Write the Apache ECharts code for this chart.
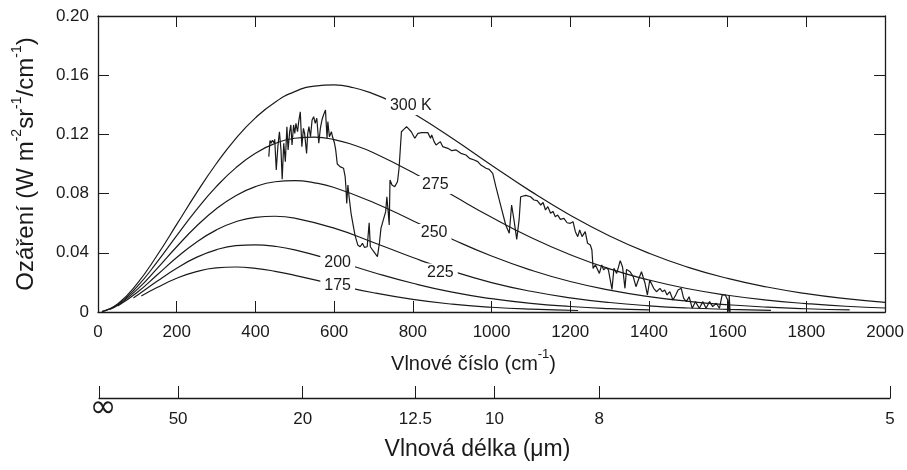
<!DOCTYPE html>
<html><head><meta charset="utf-8">
<script src="https://cdn.jsdelivr.net/npm/echarts@6/dist/echarts.min.js"></script>
<style>html,body{margin:0;padding:0;background:#fff}#c{width:907px;height:470px}</style>
</head><body><div id="c"></div>
<script>
// Planck curves: [wavenumber cm^-1, radiance]
const curve300 = [[10,0.0002],[50,0.0055],[100,0.0194],[150,0.0382],[200,0.0592],[250,0.0803],[300,0.1000],[350,0.1172],[400,0.1312],[450,0.1418],[500,0.1489],[550,0.1526],[600,0.1534],[650,0.1515],[700,0.1474],[750,0.1416],[800,0.1344],[900,0.1174],[1000,0.0992],[1100,0.0815],[1200,0.0654],[1300,0.0514],[1400,0.0397],[1500,0.0302],[1600,0.0227],[1700,0.0169],[1800,0.0124],[1900,0.0090],[2000,0.0065]];
const curve275 = [[10,0.0002],[50,0.0050],[100,0.0173],[150,0.0337],[200,0.0516],[250,0.0690],[300,0.0845],[350,0.0974],[400,0.1072],[450,0.1139],[500,0.1174],[550,0.1181],[600,0.1165],[650,0.1128],[700,0.1076],[800,0.0942],[900,0.0790],[1000,0.0640],[1100,0.0503],[1200,0.0387],[1300,0.0291],[1400,0.0216],[1500,0.0157],[1600,0.0113],[1700,0.0080],[1800,0.0057],[1900,0.0039],[2000,0.0027]];
const curve250 = [[30,0.0017],[50,0.0045],[100,0.0153],[150,0.0293],[200,0.0441],[250,0.0579],[300,0.0696],[350,0.0786],[400,0.0847],[450,0.0880],[500,0.0888],[550,0.0873],[600,0.0841],[700,0.0740],[800,0.0617],[900,0.0492],[1000,0.0378],[1100,0.0283],[1200,0.0206],[1300,0.0148],[1400,0.0104],[1500,0.0072],[1600,0.0049],[1700,0.0033],[1800,0.0022],[1910,0.0014]];
const curve225 = [[50,0.0040],[100,0.0133],[150,0.0250],[200,0.0368],[250,0.0472],[300,0.0553],[350,0.0610],[400,0.0640],[450,0.0647],[500,0.0634],[600,0.0567],[700,0.0470],[800,0.0368],[900,0.0276],[1000,0.0199],[1100,0.0140],[1200,0.0096],[1300,0.0064],[1400,0.0042],[1500,0.0027],[1600,0.0018],[1710,0.0011]];
const curve200 = [[90,0.0095],[100,0.0113],[150,0.0207],[200,0.0296],[250,0.0369],[300,0.0420],[350,0.0448],[400,0.0454],[450,0.0444],[500,0.0420],[600,0.0348],[700,0.0267],[800,0.0194],[900,0.0134],[1000,0.0090],[1100,0.0058],[1200,0.0037],[1300,0.0023],[1400,0.0014]];
const curve175 = [[110,0.0108],[150,0.0165],[200,0.0228],[250,0.0273],[300,0.0298],[350,0.0304],[400,0.0295],[450,0.0275],[500,0.0248],[600,0.0187],[700,0.0130],[800,0.0085],[900,0.0053],[1000,0.0032],[1100,0.0019],[1220,0.0010]];

// Measured spectrum
const spectrum = [[434,0.105],[437,0.1158],[440,0.114],[443,0.116],[447,0.1144],[449,0.1167],[453,0.0959],[457,0.1117],[461,0.1218],[465,0.1095],[468,0.0897],[472,0.114],[476,0.1016],[480,0.1252],[483,0.1095],[487,0.1218],[490,0.1264],[493,0.1128],[497,0.1264],[500,0.1207],[503,0.1275],[507,0.1218],[510,0.1286],[514,0.1353],[518,0.1117],[522,0.1241],[525,0.1207],[530,0.1072],[533,0.1207],[536,0.1252],[540,0.1184],[544,0.1297],[548,0.132],[552,0.1275],[556,0.1309],[561,0.114],[565,0.1241],[569,0.1297],[573,0.1331],[578,0.1365],[582,0.1174],[584,0.1286],[588,0.1184],[593,0.1218],[596,0.1184],[601,0.114],[604,0.1095],[608,0.100],[615,0.0982],[624,0.0971],[628,0.0914],[630,0.0843],[632,0.0734],[635,0.0858],[638,0.0779],[643,0.0667],[649,0.0577],[653,0.052],[660,0.0453],[666,0.0441],[672,0.0464],[677,0.0437],[684,0.0441],[689,0.0603],[692,0.0441],[699,0.0414],[710,0.0374],[715,0.0464],[719,0.0565],[725,0.0622],[731,0.0678],[734,0.0779],[737,0.0689],[740,0.0588],[742,0.0892],[747,0.0858],[754,0.0847],[761,0.088],[765,0.0971],[771,0.1218],[777,0.1234],[784,0.1252],[788,0.1257],[796,0.1218],[805,0.1174],[813,0.1207],[822,0.1212],[838,0.1212],[845,0.1174],[848,0.1196],[854,0.1151],[859,0.1128],[864,0.1117],[870,0.1151],[876,0.1117],[889,0.1106],[899,0.109],[910,0.1095],[922,0.1072],[935,0.1061],[944,0.1038],[956,0.1027],[965,0.1016],[973,0.0993],[986,0.0971],[994,0.0964],[1003,0.0937],[1011,0.0847],[1024,0.0712],[1036,0.0588],[1045,0.0532],[1051,0.0723],[1057,0.0622],[1064,0.0491],[1070,0.0622],[1074,0.0779],[1087,0.0788],[1099,0.0779],[1108,0.0757],[1116,0.0752],[1125,0.0723],[1131,0.0740],[1137,0.0689],[1143,0.0712],[1150,0.0667],[1156,0.0680],[1162,0.0644],[1168,0.0655],[1175,0.0626],[1184,0.0633],[1192,0.0603],[1200,0.0599],[1207,0.061],[1213,0.0543],[1219,0.0509],[1224,0.0554],[1230,0.0509],[1238,0.0543],[1244,0.0464],[1251,0.0453],[1255,0.0419],[1258,0.0295],[1264,0.0318],[1269,0.0329],[1274,0.0261],[1280,0.0318],[1285,0.0284],[1291,0.0302],[1297,0.0284],[1306,0.0153],[1311,0.0295],[1318,0.0261],[1327,0.0347],[1333,0.0302],[1339,0.016],[1343,0.0288],[1352,0.0272],[1360,0.0239],[1367,0.0171],[1373,0.0216],[1381,0.0272],[1390,0.0194],[1396,0.0115],[1402,0.0216],[1412,0.016],[1419,0.0137],[1428,0.016],[1434,0.0137],[1440,0.0149],[1446,0.0115],[1453,0.0137],[1461,0.0081],[1468,0.0115],[1474,0.0149],[1482,0.016],[1488,0.0093],[1495,0.007],[1502,0.0103],[1510,0.0025],[1518,0.007],[1528,0.0025],[1537,0.007],[1545,0.0025],[1554,0.007],[1562,0.0036],[1571,0.0059],[1579,0.0025],[1586,0.0115],[1594,0.0115],[1600,0.0081],[1603,0.0002],[1604,0.0115],[1606,0.0]];

// Curve labels
const curveLabels = ['300 K','275','250','225','200','175'];
const curveLabelX = [795, 857, 854, 870, 609, 609];
const curveLabelY = [0.1392, 0.0858, 0.0534, 0.0267, 0.0334, 0.0179];

// Tick labels
const yTickLabels = ['0','0.04','0.08','0.12','0.16','0.20'];
const wlTickPos = [0, 200, 515, 800, 1000, 1265, 2000];
const wlTickLabels = ['∞','50','20','12.5','10','8','5'];

const FONT = '"Liberation Sans", Arial, sans-serif';
const INK = '#1a1a1a';
const chart = echarts.init(document.getElementById('c'));

function curve(data){
  return {type:'line', data:data, smooth:true, symbol:'none', silent:true,
    lineStyle:{color:INK, width:1.2}, xAxisIndex:0, yAxisIndex:0, z:2};
}
function wlLabel(v){ const i = wlTickPos.indexOf(v); return i >= 0 ? wlTickLabels[i] : ''; }
const axisLineStyle = {show:true, onZero:false, lineStyle:{color:INK, width:1.3}};
const tickStyle = {show:true, inside:true, length:11, lineStyle:{color:INK, width:1}};

const option = {
  animation:false,
  backgroundColor:'#fff',
  grid:[{left:98, right:17, top:16, bottom:158}, {left:99, right:17, top:390, height:8}],
  xAxis:[
    {gridIndex:0, type:'value', min:0, max:2000, interval:200, position:'bottom',
     axisLine:axisLineStyle, axisTick:tickStyle, splitLine:{show:false},
     axisLabel:{fontFamily:FONT, fontSize:17, color:INK, margin:12, formatter:function(v){ return String(v); }},
     name:'{t|Vlnové číslo (cm}{s|-1}{t|)}', nameLocation:'middle', nameGap:36,
     nameTextStyle:{padding:[0,36,0,0], rich:{
       t:{fontFamily:FONT, fontSize:20, color:INK, lineHeight:26, verticalAlign:'bottom'},
       s:{fontFamily:FONT, fontSize:13, color:INK, lineHeight:26, verticalAlign:'top'}}}},
    {gridIndex:0, type:'value', min:0, max:2000, interval:200, position:'top',
     axisLine:axisLineStyle, axisTick:tickStyle, axisLabel:{show:false}, splitLine:{show:false}},
    {gridIndex:1, type:'value', min:0, max:2000, position:'bottom',
     axisLine:axisLineStyle,
     axisTick:{show:true, inside:true, length:12, lineStyle:{color:INK, width:1}, customValues:wlTickPos},
     splitLine:{show:false},
     axisLabel:{customValues:wlTickPos.slice(1), margin:6, fontFamily:FONT, fontSize:17, color:INK,
       verticalAlign:'top', lineHeight:20, padding:[5,0,0,0], formatter:wlLabel},
     name:'Vlnová délka (μm)', nameLocation:'middle', nameGap:40,
     nameTextStyle:{fontFamily:FONT, fontSize:23, color:INK, padding:[0,34,0,0]}},
    {gridIndex:1, type:'value', min:0, max:2000, position:'bottom',
     axisLine:{show:false, onZero:false}, axisTick:{show:false}, splitLine:{show:false},
     axisLabel:{customValues:wlTickPos.slice(0,1), margin:0, fontFamily:'"DejaVu Sans", sans-serif',
       fontSize:32, lineHeight:22, color:INK, padding:[0,0,0,8], formatter:wlLabel}}
  ],
  yAxis:[
    {gridIndex:0, type:'value', min:0, max:0.2, interval:0.04, position:'left',
     axisLine:axisLineStyle, axisTick:tickStyle, splitLine:{show:false},
     axisLabel:{fontFamily:FONT, fontSize:17, color:INK, margin:9,
       formatter:function(v){ return yTickLabels[Math.round(v/0.04)]; }},
     name:'{t|Ozáření (W m}{s|-2}{t|sr}{s|-1}{t|/cm}{s|-1}{t|)}', nameLocation:'middle', nameGap:60,
     nameTextStyle:{rich:{
       t:{fontFamily:FONT, fontSize:24, color:INK, lineHeight:28, verticalAlign:'bottom'},
       s:{fontFamily:FONT, fontSize:14, color:INK, lineHeight:28, verticalAlign:'top'}}}},
    {gridIndex:0, type:'value', min:0, max:0.2, interval:0.04, position:'right',
     axisLine:axisLineStyle, axisTick:tickStyle, axisLabel:{show:false}, splitLine:{show:false}},
    {gridIndex:1, type:'value', min:0, max:1, show:false}
  ],
  series:[
    curve(curve300), curve(curve275), curve(curve250), curve(curve225), curve(curve200), curve(curve175),
    {type:'line', data:spectrum, smooth:false, symbol:'none', silent:true,
     lineStyle:{color:INK, width:1.2}, xAxisIndex:0, yAxisIndex:0, z:3},
    {type:'scatter', xAxisIndex:0, yAxisIndex:0, z:10, silent:true,
     symbol:'circle', symbolSize:1, itemStyle:{color:'#fff', opacity:1},
     data:curveLabels.map(function(n,i){ return [curveLabelX[i], curveLabelY[i], n]; }),
     label:{show:true, position:'inside', formatter:function(p){ return p.data[2]; },
       fontFamily:FONT, fontSize:16, color:INK, opacity:1, textBorderWidth:0,
       backgroundColor:'#fff', padding:[1,4]}},
    {type:'line', data:[], xAxisIndex:2, yAxisIndex:2},
    {type:'line', data:[], xAxisIndex:3, yAxisIndex:2}
  ]
};
chart.setOption(option);
</script></body></html>
